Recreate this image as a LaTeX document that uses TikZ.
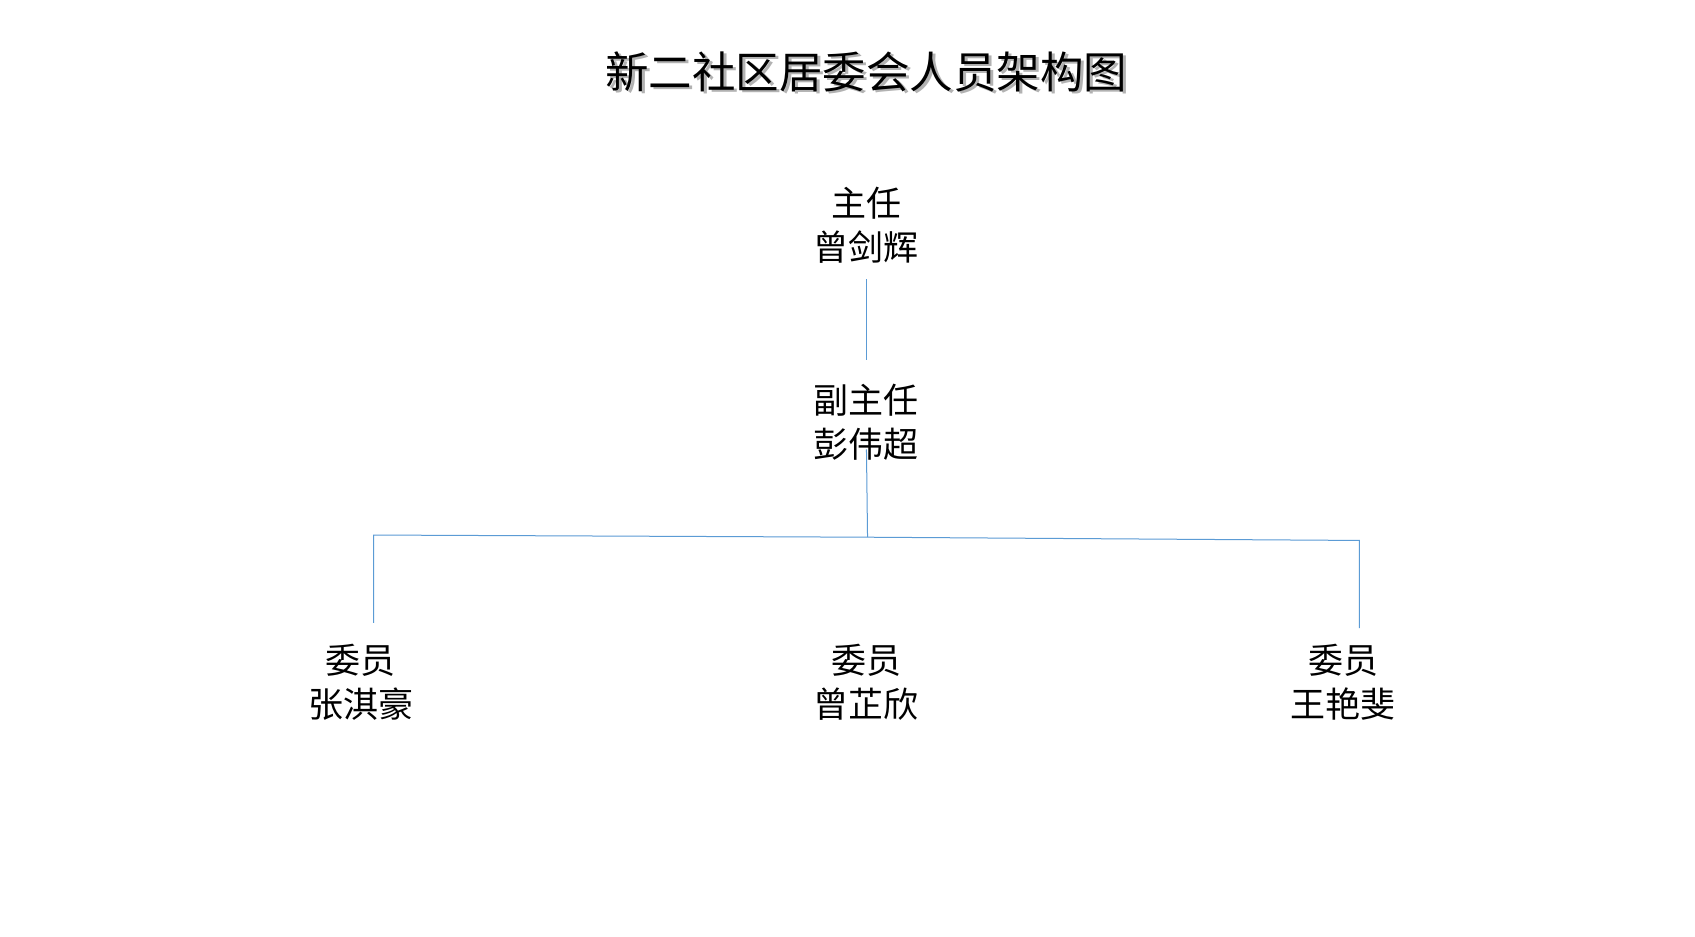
\documentclass[tikz,border=0pt]{standalone}
\usepackage{fontspec}
\newfontfamily\cjk{Noto Sans CJK SC}
\begin{document}
\begin{tikzpicture}[x=1.0831pt,y=-1.0831pt,
  person/.style={align=center,inner sep=0pt,font=\cjk\fontsize{35}{44.4}\selectfont},
  link/.style={draw=lineblue,line width=1pt},
  titletext/.style={inner sep=0pt,font=\cjk\fontsize{43.5}{50}\selectfont}]
\definecolor{lineblue}{HTML}{5B9BD5}
\useasboundingbox (0,0) rectangle (1565,865);
\fill[white] (0,0) rectangle (1565,865);
% title with shadow
\node[titletext,text=black!30] at (802.5,68.5) {新二社区居委会人员架构图};
\node[titletext] (title) at (800,66) {新二社区居委会人员架构图};
% people
\node[person] (zr) at (800,208) {主任\\曾剑辉};
\node[person] (fzr) at (800,390) {副主任\\彭伟超};
\node[person] (wy1) at (333,630) {委员\\张淇豪};
\node[person] (wy2) at (800,630) {委员\\曾芷欣};
\node[person] (wy3) at (1240,630) {委员\\王艳斐};
% connector points
\coordinate (zrb) at (800,258);
\coordinate (fzrt) at (800,332);
\coordinate (fzrb) at (800,415);
\coordinate (bus) at (801,496);
\coordinate (busl) at (345,494);
\coordinate (busr) at (1255,499);
\coordinate (wy1t) at (345,575);
\coordinate (wy3t) at (1255,580);
\draw[link] (zrb) -- (fzrt);
\draw[link] (fzrb) -- (bus);
\draw[link] (wy1t) -- (busl) -- (bus) -- (busr) -- (wy3t);
\end{tikzpicture}
\end{document}
